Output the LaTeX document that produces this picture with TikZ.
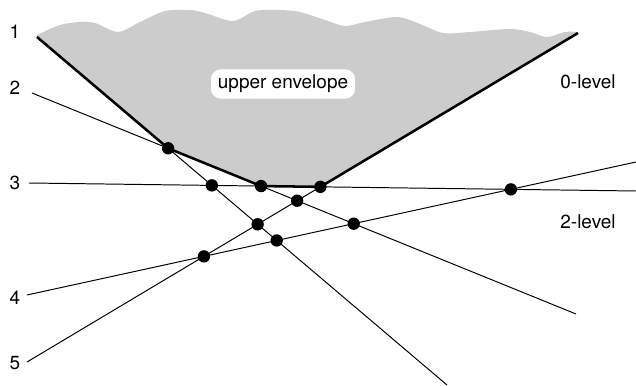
\documentclass[tikz,border=0pt]{standalone}
\usepackage{fontspec}
\setmainfont{TeX Gyre Heros}
\begin{document}
\begin{tikzpicture}[x=0.025cm,y=-0.025cm]
\tikzstyle{ln}=[line width=0.7pt]
\tikzstyle{env}=[line width=1.8pt,line join=round]
\tikzstyle{num}=[font=\fontsize{13.5}{16}\selectfont,inner sep=1pt]
\useasboundingbox (0,0) rectangle (636,386);

% end points of the five lines
\coordinate (a1) at (37,37);  \coordinate (b1) at (447,385);
\coordinate (a2) at (32,93);  \coordinate (b2) at (576,314);
\coordinate (a3) at (29,183); \coordinate (b3) at (636,191);
\coordinate (a4) at (27,295); \coordinate (b4) at (636,162);
\coordinate (a5) at (27,362); \coordinate (b5) at (578,33);

% line numbers
\foreach \i/\y in {1/32,2/88,3/183,4/298,5/363} {
  \node[num] (l\i) at (15,\y) {\i};
}

% crossings
\coordinate (p12) at (intersection of a1--b1 and a2--b2);
\coordinate (p13) at (intersection of a1--b1 and a3--b3);
\coordinate (p14) at (intersection of a1--b1 and a4--b4);
\coordinate (p15) at (intersection of a1--b1 and a5--b5);
\coordinate (p23) at (intersection of a2--b2 and a3--b3);
\coordinate (p24) at (intersection of a2--b2 and a4--b4);
\coordinate (p25) at (intersection of a2--b2 and a5--b5);
\coordinate (p34) at (intersection of a3--b3 and a4--b4);
\coordinate (p35) at (intersection of a3--b3 and a5--b5);
\coordinate (p45) at (intersection of a4--b4 and a5--b5);

% shaded region above the envelope
\fill[black!20] (a1) -- (p12) -- (p23) -- (p35) -- (b5)
  -- plot[smooth] coordinates {(577,32) (565,32) (547,37) (530,32) (510,29)
     (470,32) (443,33) (420,24) (397,17) (365,22) (345,26) (325,20) (300,12)
     (280,10) (255,11) (233,21) (205,13) (190,10) (165,11) (140,22) (118,32)
     (95,23) (80,22) (60,25) (37,35)} -- cycle;

% lines
\foreach \i in {1,...,5} {
  \draw[ln] (a\i) -- (b\i);
}
\draw[env] (a1) -- (p12) -- (p23) -- (p35) -- (b5);

% crossing dots
\foreach \p in {p12,p13,p14,p15,p23,p24,p25,p34,p35,p45} {
  \fill (\p) circle (4.4pt);
}

% labels
\node[num,fill=white,rounded corners=7pt,inner xsep=5pt,inner ysep=4pt] (ue) at (283,84) {upper envelope};
\node[num] (lv0) at (588,82) {0-level};
\node[num] (lv2) at (588,222) {2-level};
\end{tikzpicture}
\end{document}
